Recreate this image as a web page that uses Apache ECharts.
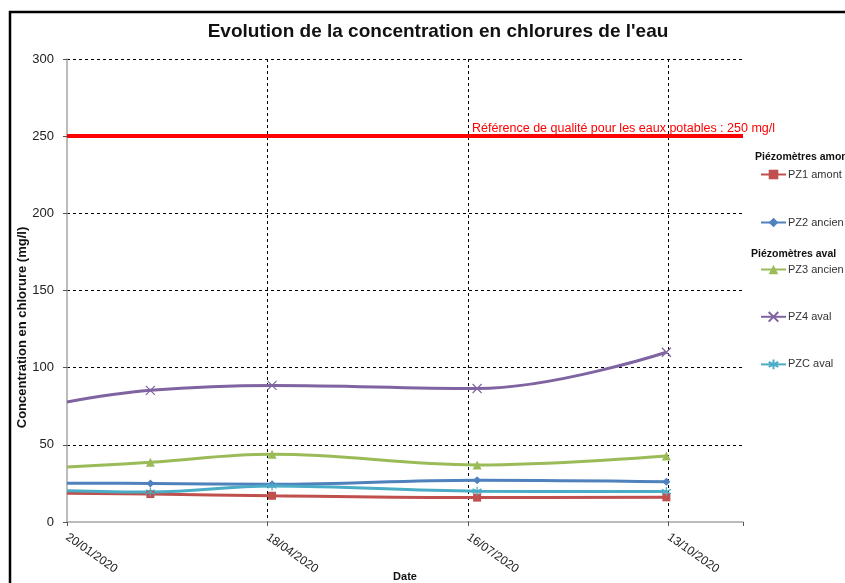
<!DOCTYPE html>
<html>
<head>
<meta charset="utf-8">
<title>Evolution de la concentration en chlorures</title>
<script src="https://cdn.jsdelivr.net/npm/echarts@6/dist/echarts.min.js"></script>
<style>
    html, body { margin: 0; padding: 0; background: #fff; }
    #chart { width: 845px; height: 583px; }
</style>
</head>
<body>
<div id="chart"></div>
<script>
    // dates des prélèvements (jj/mm/aaaa)
    var dates = ['20/01/2020', '26/02/2020', '20/04/2020', '20/07/2020', '12/10/2020'];
    var tickLabels = ['20/01/2020', '18/04/2020', '16/07/2020', '13/10/2020'];

    var pz1 = [18.6, 18.1, 17.0, 15.8, 16.0];
    var pz2 = [25.1, 25.0, 24.4, 27.0, 26.0];
    var pz3 = [35.6, 38.7, 43.9, 37.0, 42.8];
    var pz4 = [77.8, 85.3, 88.5, 86.5, 110.0];
    var pzc = [20.3, 19.4, 23.3, 20.0, 19.7];

    var seuil = 250;
    var seuilLabel = 'Référence de qualité pour les eaux potables : 250 mg/l';

    var font = '"Liberation Sans", Arial, sans-serif';

    function toDays(s) {
        var p = s.split('/');
        var base = dates[0].split('/');
        var t = Date.UTC(+p[2], +p[1] - 1, +p[0]);
        var t0 = Date.UTC(+base[2], +base[1] - 1, +base[0]);
        return Math.round((t - t0) / 86400000);
    }

    function pairs(values) {
        return values.map(function (v, i) { return [toDays(dates[i]), v]; });
    }

    var symX = 'path://M0,0L10,10M10,0L0,10';
    var symStar = 'path://M5,0L5,10M0,2.5L10,7.5M0,7.5L10,2.5';

    function serie(name, values, color, symbol, size) {
        return {
            name: name,
            type: 'line',
            smooth: 0.4,
            data: pairs(values),
            symbol: symbol,
            symbolSize: function (v) { return v[0] === 0 ? 0 : size; },
            lineStyle: { color: color, width: 3 },
            itemStyle: { color: color, borderColor: color, borderWidth: symbol.indexOf('path') === 0 ? 1.2 : 0 },
            emphasis: { disabled: true },
            z: 3
        };
    }

    var series = [
        serie('PZ1 amont', pz1, '#C0504D', 'rect', 8),
        serie('PZ2 ancien amont', pz2, '#4F81BD', 'diamond', 8),
        serie('PZ3 ancien lavoir', pz3, '#9BBB59', 'triangle', 9),
        serie('PZ4 aval', pz4, '#8064A2', symX, 9),
        serie('PZC aval', pzc, '#4BACC6', symStar, 9)
    ];

    series[0].markLine = {
        silent: true,
        symbol: 'none',
        data: [{ yAxis: seuil }],
        lineStyle: { color: '#FF0000', width: 4, type: 'solid' },
        label: {
            show: true,
            position: 'insideEndTop',
            formatter: seuilLabel,
            color: '#FF0000',
            fontFamily: font,
            fontSize: 12.5,
            offset: [37, 4]
        }
    };

    var legendText = { fontFamily: font, fontSize: 11, color: '#333', padding: [0, 0, 0, -3] };

    var myChart = echarts.init(document.getElementById('chart'));
    var option = {
        animation: false,
        backgroundColor: '#fff',
        title: {
            text: "Evolution de la concentration en chlorures de l'eau",
            left: 433,
            top: 17,
            textAlign: 'center',
            textStyle: { fontFamily: font, fontSize: 19, fontWeight: 'bold', color: '#111' }
        },
        graphic: [
            {
                type: 'polyline',
                shape: { points: [[10, 583], [10, 12], [845, 12]] },
                style: { stroke: '#000', lineWidth: 2.5, fill: null }
            },
            {
                type: 'text', left: 755, top: 152,
                style: { text: 'Piézomètres amont', font: 'bold 10.5px ' + font, fill: '#111' }
            },
            {
                type: 'text', left: 751, top: 249,
                style: { text: 'Piézomètres aval', font: 'bold 10.5px ' + font, fill: '#111' }
            }
        ],
        legend: [
            {
                data: ['PZ1 amont', 'PZ2 ancien amont'],
                orient: 'vertical',
                left: 760,
                top: 169,
                padding: 0,
                itemWidth: 25,
                itemHeight: 12,
                itemGap: 37,
                selectedMode: false,
                textStyle: legendText
            },
            {
                data: ['PZ3 ancien lavoir', 'PZ4 aval', 'PZC aval'],
                orient: 'vertical',
                left: 760,
                top: 264,
                padding: 0,
                itemWidth: 25,
                itemHeight: 12,
                itemGap: 36,
                selectedMode: false,
                textStyle: legendText
            }
        ],
        grid: {
            left: 67,
            right: 102,
            top: 59,
            bottom: 61,
            outerBoundsMode: 'none'
        },
        xAxis: {
            type: 'value',
            min: 0,
            max: 300,
            interval: 89,
            name: 'Date',
            nameLocation: 'middle',
            nameGap: 49,
            nameMoveOverlap: false,
            nameTextStyle: { fontFamily: font, fontSize: 11, fontWeight: 'bold', color: '#111' },
            axisLine: { lineStyle: { color: '#a6a6a6', width: 1.5 } },
            axisTick: { show: true, length: 5, lineStyle: { color: '#555', type: 'dashed' } },
            axisLabel: {
                rotate: -35,
                margin: 14,
                fontFamily: font,
                fontSize: 12,
                color: '#222',
                formatter: function (v) {
                    var i = Math.round(v / 89);
                    return (v % 89 === 0 && tickLabels[i]) ? tickLabels[i] : '';
                }
            },
            splitLine: {
                show: true,
                showMinLine: false,
                showMaxLine: false,
                lineStyle: { color: '#000', type: [3, 3], width: 1 }
            }
        },
        yAxis: {
            type: 'value',
            min: 0,
            max: 300,
            interval: 50,
            name: 'Concentration en chlorure (mg/l)',
            nameLocation: 'middle',
            nameGap: 38,
            nameMoveOverlap: false,
            nameTextStyle: { fontFamily: font, fontSize: 13, fontWeight: 'bold', color: '#111', padding: [0, 74, 0, 0] },
            axisLine: { show: true, lineStyle: { color: '#a6a6a6', width: 1.5 } },
            axisTick: { show: true, length: 4, lineStyle: { color: '#555' } },
            axisLabel: { fontFamily: font, fontSize: 13, color: '#222', margin: 13 },
            splitLine: {
                show: true,
                showMinLine: false,
                lineStyle: { color: '#000', type: [3, 3], width: 1 }
            }
        },
        series: series
    };

    myChart.setOption(option);
    window.onresize = function () {
        myChart.resize();
    };
</script>
</body>
</html>
